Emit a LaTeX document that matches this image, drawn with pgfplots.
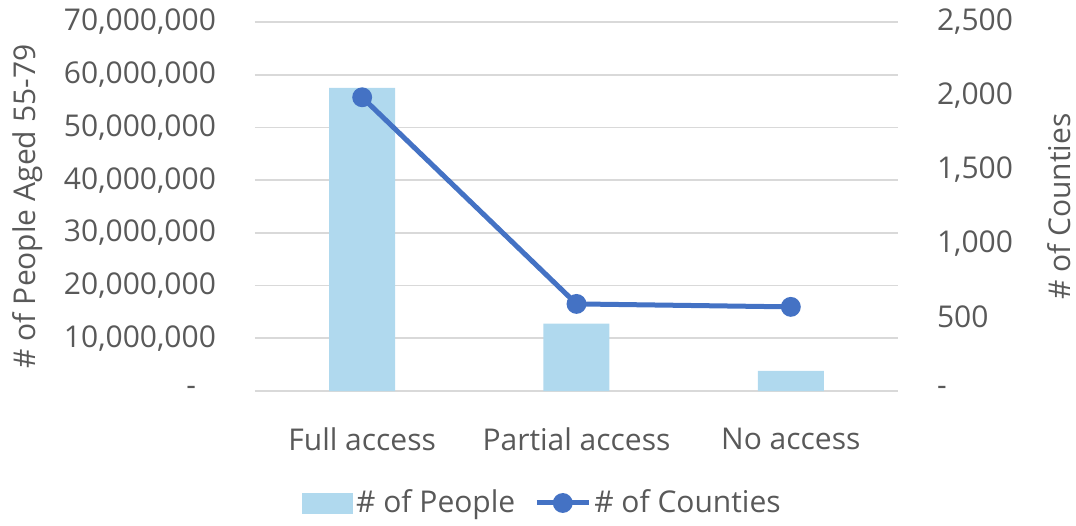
\documentclass[border=0pt]{standalone}
\usepackage{pgfplots}
\pgfplotsset{compat=1.18}
\usepackage{pgfplotstable}
\usepackage{fontspec}
\setmainfont{Open Sans}
\definecolor{txt}{HTML}{595959}
\definecolor{barc}{HTML}{B0D9EE}
\definecolor{linec}{HTML}{4472C4}
\definecolor{gridc}{HTML}{D9D9D9}

\pgfplotstableread{
x people counties
0 57500000 1990
1 12800000 590
2 3800000 570
}\data

\begin{document}
\begin{tikzpicture}[font=\fontsize{15}{18}\selectfont]
\useasboundingbox (-127.5pt,-67pt) rectangle (410.5pt,195.5pt);
\begin{axis}[
  at={(0,0)}, anchor=south west, scale only axis,
  width=321.5pt, height=184.5pt,
  xmin=-0.5, xmax=2.5, ymin=0, ymax=70000000,
  scaled y ticks=false,
  axis line style={draw=none}, tick style={draw=none},
  ymajorgrids, grid style={gridc, line width=0.9pt},
  xtick={0,1,2}, xticklabels={Full access, Partial access, No access},
  ytick={0,1e7,2e7,3e7,4e7,5e7,6e7,7e7},
  yticklabels={{-\hspace*{10pt}},{10,000,000},{20,000,000},{30,000,000},{40,000,000},{50,000,000},{60,000,000},{70,000,000}},
  ticklabel style={text=txt, font=\fontsize{15}{18}\selectfont},
  yticklabel style={xshift=-16pt},
  xticklabel style={yshift=-15pt},
  ylabel={\# of People Aged 55-79},
  ylabel style={at={(rel axis cs:-0.353,0.5)}, anchor=center, text=txt},
]
\addplot[ybar, bar width=33pt, fill=barc, draw=none] table[x=x, y=people]{\data};
\end{axis}
\begin{axis}[
  at={(0,0)}, anchor=south west, scale only axis,
  width=321.5pt, height=184.5pt,
  xmin=-0.5, xmax=2.5, ymin=0, ymax=2500,
  axis y line*=right, axis x line=none,
  axis line style={draw=none}, tick style={draw=none},
  xtick=\empty,
  ytick={0,500,1000,1500,2000,2500},
  yticklabels={-,500,{1,000},{1,500},{2,000},{2,500}},
  ticklabel style={text=txt, font=\fontsize{15}{18}\selectfont},
  yticklabel style={anchor=west, xshift=16pt},
  ylabel={\# of Counties},
  ylabel style={at={(rel axis cs:1.25,0.5)}, anchor=center, text=txt},
  legend style={at={(rel axis cs:0.448,-0.3035)}, anchor=center, draw=none,
    legend columns=2, text=txt, font=\fontsize{15}{18}\selectfont,
    nodes={inner xsep=1.5pt},
    /tikz/every even column/.append style={column sep=8pt}},
]
\addlegendimage{legend image code/.code={\fill[barc] (0pt,-5pt) rectangle (25pt,5pt);}}
\addlegendentry{\# of People}
\addplot[linec, line width=2.5pt, mark=*, mark size=3.7pt,
  legend image code/.code={\draw[mark repeat=2, mark phase=2] plot coordinates {(0pt,0pt) (13pt,0pt) (26pt,0pt)};}]
  table[x=x, y=counties]{\data};
\addlegendentry{\# of Counties}
\end{axis}
\end{tikzpicture}
\end{document}
